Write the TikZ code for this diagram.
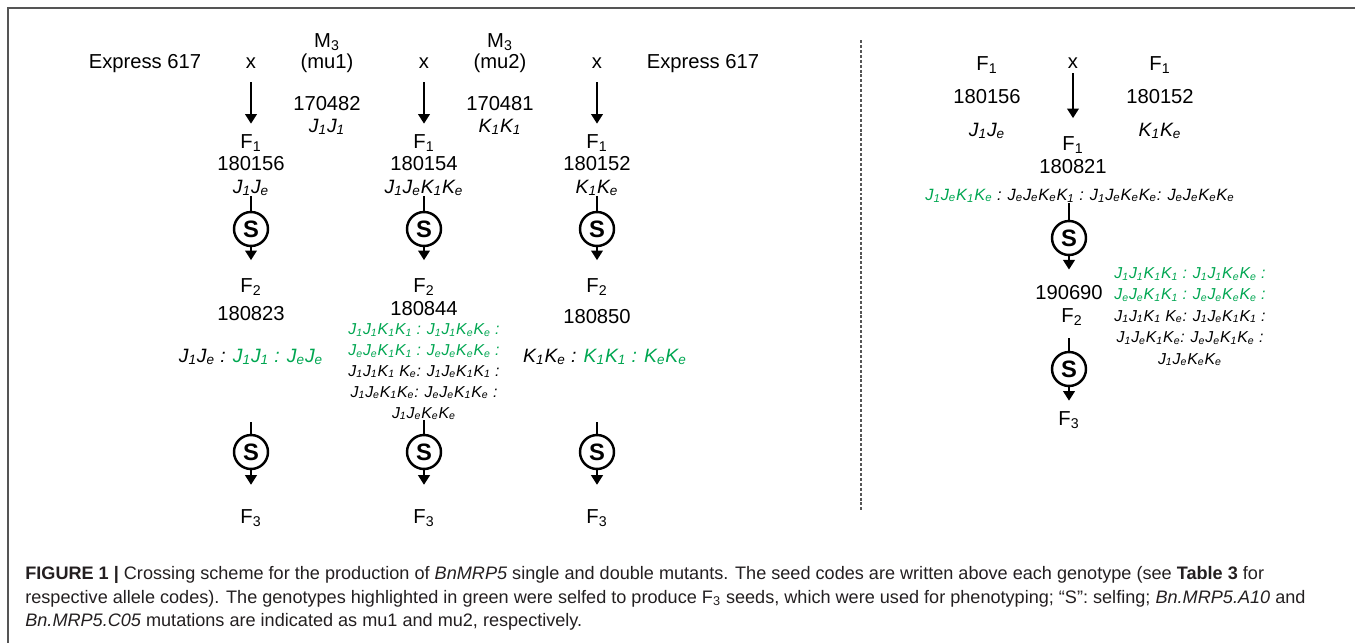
\documentclass[tikz,border=0pt]{standalone}
\usepackage{fontspec}
\setmainfont{Liberation Sans}
\usetikzlibrary{arrows.meta}

\definecolor{selfgreen}{RGB}{0,166,81}
\definecolor{framegray}{RGB}{85,85,85}
\definecolor{capgray}{RGB}{35,31,32}

\newcommand{\Jone}{J\textsubscript{1}}
\newcommand{\Jee}{J\textsubscript{e}}
\newcommand{\Kone}{K\textsubscript{1}}
\newcommand{\Kee}{K\textsubscript{e}}

\begin{document}
\begin{tikzpicture}[
x=0.02cm, y=-0.02cm,
lbl/.style={anchor=base, inner sep=0pt, font=\fontsize{11.5}{13}\selectfont},
geno/.style={anchor=base, inner sep=0pt, font=\fontsize{11}{13}\selectfont\itshape},
ratio/.style={anchor=base, inner sep=0pt, align=center, font=\fontsize{9}{11.9}\selectfont\itshape},
selfing/.style={draw, circle, line width=1.4pt, minimum size=0.68cm, inner sep=0pt, font=\fontsize{13.5}{13.5}\selectfont\bfseries},
arrow/.style={line width=1.5pt, -{Triangle[length=5.5pt, width=6.5pt]}},
tick/.style={line width=1.5pt},
caption/.style={anchor=base west, inner sep=0pt, text=capgray, font=\fontsize{10.3}{12}\selectfont}
]
\useasboundingbox (0,0) rectangle (1355,643);

% frame and divider
\draw[framegray, line width=0.85pt] (1355,8) -- (8,8) -- (8,643);
\draw[framegray, line width=0.8pt, dash pattern=on 1.7pt off 1.1pt] (861,40) -- (861,512);

% ---- left panel: parents
\node[lbl] (exp1) at (145,68) {Express 617};
\node[lbl] (x1) at (251,68) {x};
\node[lbl] (m3a) at (327,47) {M\textsubscript{3}};
\node[lbl] (mu1) at (327,68) {(mu1)};
\node[lbl] (x2) at (424,68) {x};
\node[lbl] (m3b) at (500,47) {M\textsubscript{3}};
\node[lbl] (mu2) at (500,68) {(mu2)};
\node[lbl] (x3) at (597,68) {x};
\node[lbl] (exp2) at (703,68) {Express 617};
\node[lbl] (seed1) at (327,110) {170482};
\node[geno] (gmu1) at (327,132) {\Jone\Jone};
\node[lbl] (seed2) at (500,110) {170481};
\node[geno] (gmu2) at (500,132) {\Kone\Kone};

% ---- left panel: F1
\node[lbl] (f1a) at (251,148) {F\textsubscript{1}};
\node[lbl] (s1a) at (251,170) {180156};
\node[geno] (g1a) at (251,193) {\Jone\Jee};
\node[lbl] (f1b) at (424,148) {F\textsubscript{1}};
\node[lbl] (s1b) at (424,170) {180154};
\node[geno] (g1b) at (424,193) {\Jone\Jee\Kone\Kee};
\node[lbl] (f1c) at (597,148) {F\textsubscript{1}};
\node[lbl] (s1c) at (597,170) {180152};
\node[geno] (g1c) at (597,193) {\Kone\Kee};

\foreach \c in {1,2,3}
  \draw[arrow, shorten <=8pt, shorten >=5.7pt] (x\c.south) -- (f1\ifcase\c\or a\or b\or c\fi.north);

% ---- left panel: selfing to F2
\node[selfing] (sa1) at (251,229) {S};
\node[selfing] (sb1) at (424,229) {S};
\node[selfing] (sc1) at (597,229) {S};
\draw[tick] (g1a) -- (sa1);
\draw[tick] (g1b) -- (sb1);
\draw[tick] (g1c) -- (sc1);

\node[lbl] (f2a) at (251,292) {F\textsubscript{2}};
\node[lbl] (s2a) at (251,320) {180823};
\node[geno] (g2a) at (251,362) {\Jone\Jee\ : {\color{selfgreen}\Jone\Jone\ : \Jee\Jee}};
\node[lbl] (f2b) at (424,292) {F\textsubscript{2}};
\node[lbl] (s2b) at (424,315) {180844};
% base anchor of a multi-line node is its last line
\node[ratio] (g2b) at (424,418) {%
  {\color{selfgreen}\Jone\Jone\Kone\Kone\ : \Jone\Jone\Kee\Kee\ :}\\
  {\color{selfgreen}\Jee\Jee\Kone\Kone\ : \Jee\Jee\Kee\Kee\ :}\\
  \Jone\Jone\Kone\ \Kee: \Jone\Jee\Kone\Kone\ :\\
  \Jone\Jee\Kone\Kee: \Jee\Jee\Kone\Kee\ :\\
  \Jone\Jee\Kee\Kee};
\node[lbl] (f2c) at (597,292) {F\textsubscript{2}};
\node[lbl] (s2c) at (597,323) {180850};
\node[geno] (g2c) at (605,362) {\Kone\Kee\ : {\color{selfgreen}\Kone\Kone\ : \Kee\Kee}};

\draw[arrow, shorten >=10pt] (sa1.south) -- (f2a.north);
\draw[arrow, shorten >=10pt] (sb1.south) -- (f2b.north);
\draw[arrow, shorten >=10pt] (sc1.south) -- (f2c.north);

% ---- left panel: selfing to F3
\node[selfing] (sa2) at (251,452) {S};
\node[selfing] (sb2) at (424,452) {S};
\node[selfing] (sc2) at (597,452) {S};
\coordinate (ta) at (251,422);
\coordinate (tc) at (597,422);
\draw[tick] (ta) -- (sa2);
\draw[tick] (g2b.south) -- (sb2);
\draw[tick] (tc) -- (sc2);

\node[lbl] (f3a) at (251,523) {F\textsubscript{3}};
\node[lbl] (f3b) at (424,523) {F\textsubscript{3}};
\node[lbl] (f3c) at (597,523) {F\textsubscript{3}};
\draw[arrow, shorten >=13.6pt] (sa2.south) -- (f3a.north);
\draw[arrow, shorten >=13.6pt] (sb2.south) -- (f3b.north);
\draw[arrow, shorten >=13.6pt] (sc2.south) -- (f3c.north);

% ---- right panel
\node[lbl] (rf1a) at (987,70) {F\textsubscript{1}};
\node[lbl] (rx) at (1073,68) {x};
\node[lbl] (rf1b) at (1160,70) {F\textsubscript{1}};
\node[lbl] (rs1a) at (987,103) {180156};
\node[lbl] (rs1b) at (1160,103) {180152};
\node[geno] (rg1a) at (987,136) {\Jone\Jee};
\node[geno] (rg1b) at (1160,136) {\Kone\Kee};

\node[lbl] (rf1) at (1073,150) {F\textsubscript{1}};
\node[lbl] (rs1) at (1073,173) {180821};
\node[geno, font=\fontsize{9.3}{12}\selectfont\itshape] (rg1) at (1080,200)
  {{\color{selfgreen}\Jone\Jee\Kone\Kee}\ : \Jee\Jee\Kee\Kone\ : \Jone\Jee\Kee\Kee: \Jee\Jee\Kee\Kee};
\draw[arrow, shorten <=2.8pt, shorten >=10pt] (rx.south) -- (rf1.north);

\node[selfing] (sr1) at (1069,238) {S};
\draw[tick] (sr1.north) -- (sr1.north |- rg1.south);

\node[lbl] (rs2) at (1069,299) {190690};
\node[lbl] (rf2) at (1072,322) {F\textsubscript{2}};
\node[ratio, font=\fontsize{9}{12.2}\selectfont\itshape] (rg2) at (1190,364) {%
  {\color{selfgreen}\Jone\Jone\Kone\Kone\ : \Jone\Jone\Kee\Kee\ :}\\
  {\color{selfgreen}\Jee\Jee\Kone\Kone\ : \Jee\Jee\Kee\Kee\ :}\\
  \Jone\Jone\Kone\ \Kee: \Jone\Jee\Kone\Kone\ :\\
  \Jone\Jee\Kone\Kee: \Jee\Jee\Kone\Kee\ :\\
  \Jone\Jee\Kee\Kee};
\draw[arrow, shorten >=8.5pt] (sr1.south) -- (rs2.north);

\node[selfing] (sr2) at (1069,369) {S};
\coordinate (tr) at (1069,338);
\draw[tick] (tr) -- (sr2);
\node[lbl] (rf3) at (1069,425) {F\textsubscript{3}};
\draw[arrow, shorten >=5.7pt] (sr2.south) -- (rf3.north);

% ---- caption
\node[caption] (cap1) at (25,579) {{\bfseries FIGURE 1 |} Crossing scheme for the production of \textit{BnMRP5} single and double mutants. The seed codes are written above each genotype (see \textbf{Table 3} for};
\node[caption] (cap2) at (25,603) {respective allele codes). The genotypes highlighted in green were selfed to produce F\textsubscript{3} seeds, which were used for phenotyping; “S”: selfing; \textit{Bn.MRP5.A10} and};
\node[caption] (cap3) at (25,626) {\textit{Bn.MRP5.C05} mutations are indicated as mu1 and mu2, respectively.};
\end{tikzpicture}
\end{document}
